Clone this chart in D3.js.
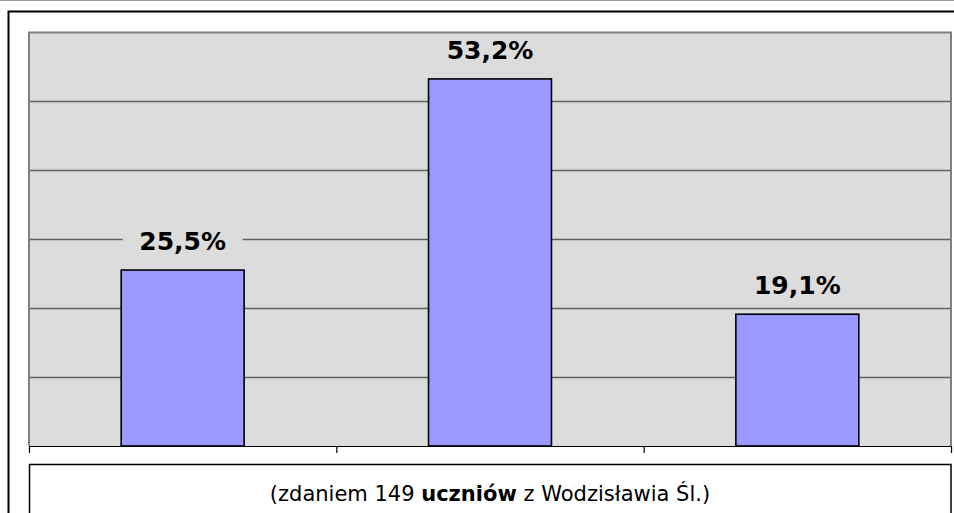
<!DOCTYPE html>
<html>
<head>
<meta charset="utf-8">
<script src="https://cdn.jsdelivr.net/npm/d3@7"></script>
<style>
  body { margin: 0; background: #fff; }
  svg { display: block; font-family: "DejaVu Sans", Verdana, sans-serif; }
</style>
</head>
<body>
<svg id="chart"></svg>
<script>
const width = 954;
const height = 513;

// data
const categories = ["kategoria 1", "kategoria 2", "kategoria 3"];
const values = [25.5, 53.2, 19.1];
const labels = ["25,5%", "53,2%", "19,1%"];
const yTicks = [0, 10, 20, 30, 40, 50, 60];

const plotLeft = 29;
const plotRight = 951;
const plotTop = 32;
const plotBottom = 446;

const svg = d3.select("#chart")
  .attr("width", width)
  .attr("height", height);

// outer frame
svg.append("line")
  .attr("x1", 0).attr("x2", width)
  .attr("y1", 0.5).attr("y2", 0.5)
  .attr("stroke", "#999").attr("stroke-width", 1.2);

svg.append("path")
  .attr("d", `M8.5,${height + 5} V11.5 H${width + 5}`)
  .attr("fill", "none")
  .attr("stroke", "#000")
  .attr("stroke-width", 2);

// scales
const y = d3.scaleLinear()
  .domain([0, 60])
  .range([plotBottom, plotTop]);

const x = d3.scaleBand()
  .domain(categories)
  .range([plotLeft, plotRight])
  .paddingInner(0.6)
  .paddingOuter(0.3);

const xEdges = d3.scaleLinear()
  .domain([0, categories.length])
  .range([plotLeft, plotRight]);

// plot background
svg.append("rect")
  .attr("x", plotLeft).attr("y", plotTop)
  .attr("width", plotRight - plotLeft)
  .attr("height", plotBottom - plotTop)
  .attr("fill", "#dcdcdc");

// gridlines
svg.append("g")
  .selectAll("line")
  .data(yTicks.slice(1, -1))
  .join("line")
  .attr("x1", plotLeft).attr("x2", plotRight)
  .attr("y1", d => y(d) + 0.5).attr("y2", d => y(d) + 0.5)
  .attr("stroke", "#5f5f5f")
  .attr("stroke-width", 1.3);

// plot border (top, left, right)
svg.append("path")
  .attr("d", `M${plotLeft},${plotBottom} V${plotTop + 0.5} H${plotRight} V${plotBottom}`)
  .attr("fill", "none")
  .attr("stroke", "#808080")
  .attr("stroke-width", 2);

// x axis with ticks at category boundaries
svg.append("g")
  .attr("transform", `translate(0,${plotBottom})`)
  .call(d3.axisBottom(xEdges).ticks(categories.length).tickFormat("").tickSizeInner(7).tickSizeOuter(0))
  .call(g => g.select(".domain").attr("stroke", "#000").attr("stroke-width", 1.2))
  .call(g => g.selectAll(".tick line").attr("stroke", "#000").attr("stroke-width", 1.2));

// bars
svg.append("g")
  .selectAll("rect")
  .data(values)
  .join("rect")
  .attr("x", (d, i) => x(categories[i]))
  .attr("y", d => y(d))
  .attr("width", x.bandwidth())
  .attr("height", d => y(0) - y(d))
  .attr("fill", "#9999ff")
  .attr("stroke", "#000")
  .attr("stroke-width", 1.6);

// value labels with knock-out background
const lab = svg.append("g")
  .selectAll("g")
  .data(values)
  .join("g")
  .attr("transform", (d, i) => `translate(${x(categories[i]) + x.bandwidth() / 2},${y(d) - 20})`);

lab.append("rect")
  .attr("x", -60).attr("y", -25)
  .attr("width", 120).attr("height", 31)
  .attr("fill", "#dcdcdc");

lab.append("text")
  .attr("text-anchor", "middle")
  .attr("font-size", 25)
  .attr("font-weight", "bold")
  .attr("fill", "#000")
  .text((d, i) => labels[i]);

// caption box
svg.append("rect")
  .attr("x", 29.5).attr("y", 464.5)
  .attr("width", plotRight - 29.5)
  .attr("height", 80)
  .attr("fill", "#fff")
  .attr("stroke", "#000")
  .attr("stroke-width", 1.5);

const caption = svg.append("text")
  .attr("x", (29 + plotRight) / 2)
  .attr("y", 501)
  .attr("text-anchor", "middle")
  .attr("font-size", 21)
  .attr("fill", "#000");
caption.append("tspan").text("(zdaniem 149 ");
caption.append("tspan").attr("font-weight", "bold").text("uczniów");
caption.append("tspan").text(" z Wodzisławia Śl.)");
</script>
</body>
</html>
